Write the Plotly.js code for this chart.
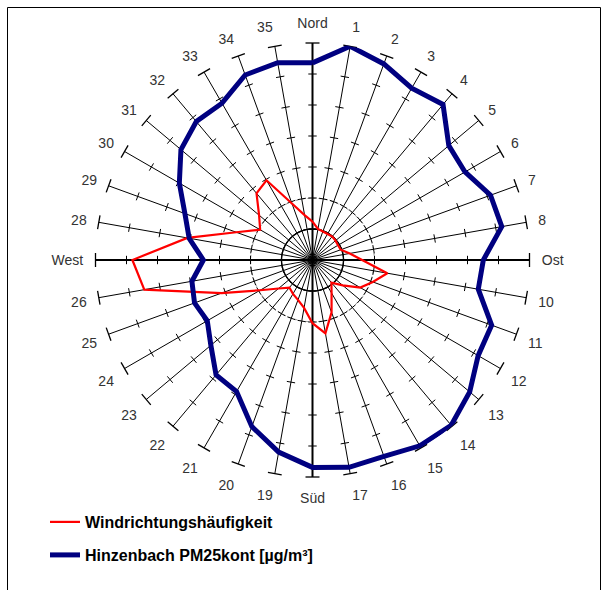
<!DOCTYPE html>
<html>
<head>
<meta charset="utf-8">
<script src="https://cdn.plot.ly/plotly-3.0.1.min.js"></script>
<style>html,body{margin:0;padding:0;background:#fff}#chart{width:610px;height:590px}</style>
</head>
<body>
<div id="chart"></div>
<script>
// Directions (36 sectors, 10° each)
const categories = ['Nord','1','2','3','4','5','6','7','8','Ost','10','11','12','13','14','15','16','17',
  'Süd','19','20','21','22','23','24','25','26','West','28','29','30','31','32','33','34','35'];
// Wind direction frequency (red)
const windFreq = [1.24,1.02,0.98,0.97,0.99,0.97,0.95,0.97,1.22,1.6,2.45,2.07,1.78,1.27,0.95,1.23,1.8,2.4,
  2.04,1.57,1.37,1.26,1.16,1.43,1.95,3.12,5.51,5.81,4.1,2.62,1.95,2.25,2.81,2.97,1.94,1.47];
// Hinzenbach PM25kont [µg/m³] (blue)
const pm25 = [6.36,7.0,6.73,6.40,6.55,5.74,5.68,6.11,6.2,5.51,5.43,6.15,6.17,6.62,6.96,6.92,6.74,6.79,
  6.69,6.29,5.72,4.90,4.84,4.28,3.92,4.05,3.95,3.52,4.04,4.38,4.96,5.54,5.83,5.84,6.35,6.46];
const tickLevels = [1,2,3,4,5,6];
const rMax = 7;
const cardinal = ['Nord','Ost','Süd','West'];

const closed = a => a.concat([a[0]]);
const thetaC = closed(categories);

// tick marks along every spoke
const tTheta = [], tR = [], tAng = [];
categories.forEach((c,i)=>{ tickLevels.forEach(l=>{ tTheta.push(c); tR.push(l); tAng.push(i*10); }); });
const cTheta = categories.slice(), cR = categories.map(()=>rMax), cAng = categories.map((c,i)=>i*10);

// cardinal spokes (drawn heavier)
const sTheta = [], sR = [];
cardinal.forEach(c=>{ sTheta.push(c,c,null); sR.push(0,rMax,null); });

const traces = [
  {type:'scatterpolar', mode:'lines', theta:thetaC, r:thetaC.map(()=>2), line:{color:'#9a9a9a', width:1, dash:'dot'}, showlegend:false, hoverinfo:'skip'},
  {type:'scatterpolar', mode:'lines', theta:thetaC, r:thetaC.map(()=>1), line:{color:'#000', width:1.3}, showlegend:false, hoverinfo:'skip'},
  {type:'scatterpolar', mode:'lines', theta:sTheta, r:sR, line:{color:'#000', width:2}, connectgaps:false, showlegend:false, hoverinfo:'skip'},
  {type:'scatterpolar', mode:'markers', theta:tTheta, r:tR, marker:{symbol:'line-ew', size:6, angle:tAng, line:{color:'#000', width:1}}, showlegend:false, hoverinfo:'skip'},
  {type:'scatterpolar', mode:'markers', theta:cTheta, r:cR, marker:{symbol:'line-ew', size:10, angle:cAng, line:{color:'#000', width:1.3}}, showlegend:false, hoverinfo:'skip'},
  {type:'scatterpolar', mode:'lines', name:'Windrichtungshäufigkeit', theta:thetaC, r:closed(windFreq), line:{color:'#ff0000', width:2.2}, legend:'legend'},
  {type:'scatterpolar', mode:'lines', name:'Hinzenbach PM25kont [µg/m³]', theta:thetaC, r:closed(pm25), line:{color:'#000080', width:5}, legend:'legend2'}
];

const W = 610, H = 590, cx = 312.5, cy = 260, R = 217;
const legFont = {family:'Liberation Sans, Arial, sans-serif', size:16, color:'#000', weight:'bold'};
const layout = {
  width:W, height:H, margin:{l:0,r:0,t:0,b:0},
  paper_bgcolor:'#fff', plot_bgcolor:'#fff',
  font:{family:'Liberation Sans, Arial, sans-serif'},
  polar:{
    domain:{x:[(cx-R)/W,(cx+R)/W], y:[1-(cy+R)/H, 1-(cy-R)/H]},
    bgcolor:'rgba(0,0,0,0)',
    radialaxis:{range:[0,rMax], showgrid:false, showline:false, showticklabels:false, ticks:''},
    angularaxis:{type:'category', categoryarray:categories, rotation:90, direction:'clockwise',
      showgrid:true, gridcolor:'#000', gridwidth:1, showline:false,
      ticks:'outside', ticklen:9, tickcolor:'rgba(0,0,0,0)',
      tickfont:{family:'Liberation Sans, Arial, sans-serif', size:14, color:'#333'}}
  },
  legend:{x:45/W, y:1-522/H, xanchor:'left', yanchor:'middle', bgcolor:'rgba(0,0,0,0)', font:legFont},
  legend2:{x:45/W, y:1-555/H, xanchor:'left', yanchor:'middle', bgcolor:'rgba(0,0,0,0)', font:legFont},
  shapes:[{type:'rect', xref:'paper', yref:'paper', x0:7.5/W, x1:600.5/W, y0:-0.02, y1:1-7.5/H, line:{color:'#000', width:1}}]
};
Plotly.newPlot('chart', traces, layout, {displayModeBar:false, staticPlot:true});
</script>
</body>
</html>
